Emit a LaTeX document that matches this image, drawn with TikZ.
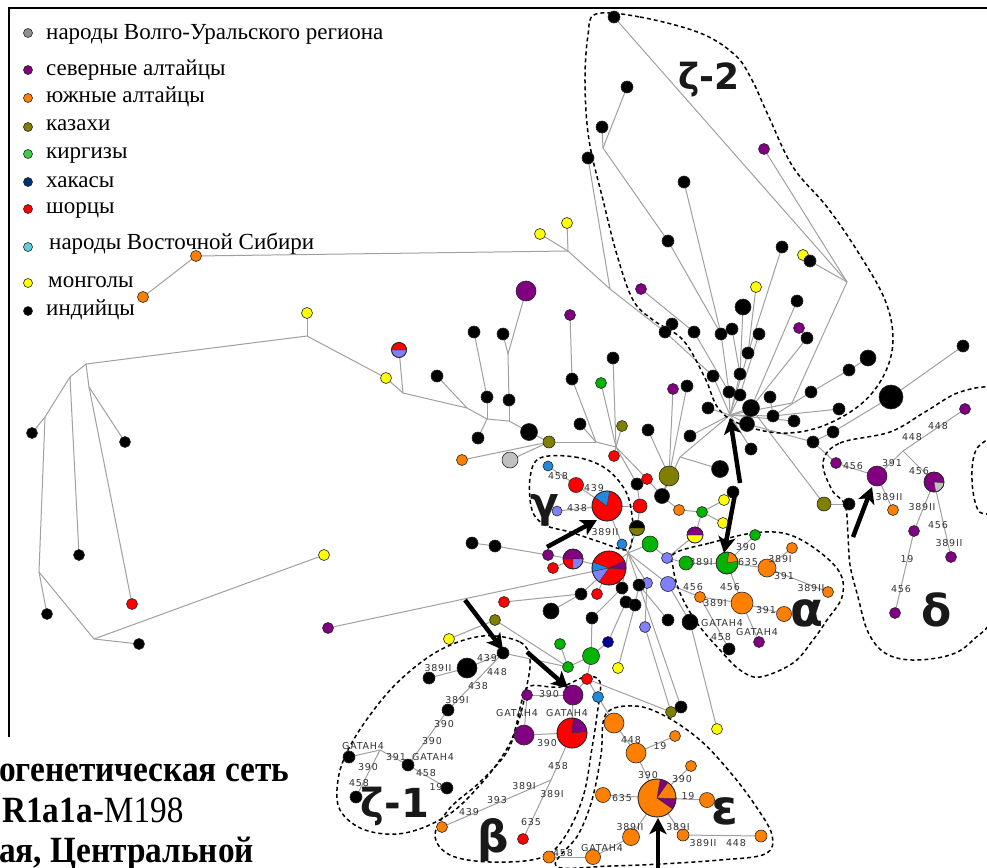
\documentclass[tikz,border=0pt]{standalone}
\usepackage{fontspec}
\setmainfont{Liberation Serif}
\newfontfamily\capfont{Liberation Serif}
\newfontfamily\labfont[LetterSpace=8]{DejaVu Sans}
\newfontfamily\grkfont{DejaVu Sans}
\usetikzlibrary{arrows.meta}
\definecolor{cpur}{HTML}{800080}
\definecolor{cora}{HTML}{FF8000}
\definecolor{coli}{HTML}{808000}
\definecolor{cgrn}{HTML}{00B400}
\definecolor{cnav}{HTML}{000099}
\definecolor{cred}{HTML}{FF0000}
\definecolor{cblu}{HTML}{2288DD}
\definecolor{clav}{HTML}{8080FF}
\definecolor{cyel}{HTML}{FFFF00}
\definecolor{cgry}{HTML}{C0C0C0}
\definecolor{lgry}{HTML}{909090}
\definecolor{lgrn}{HTML}{44CC44}
\definecolor{lnav}{HTML}{003070}
\definecolor{lcya}{HTML}{66CCDD}
\definecolor{cedge}{HTML}{A0A0A0}
\definecolor{clab}{HTML}{333333}
\newcommand\pieseg[5]{\filldraw[fill=#5,draw=black!80,line width=0.4pt] (#1) -- ++(#2:#4pt) arc[start angle=#2,end angle=#3,radius=#4pt] -- cycle;}
\newcommand\pieout[2]{\draw[black!85,line width=0.6pt] (#1) circle[radius=#2pt];}
\begin{document}
\begin{tikzpicture}[x=1pt,y=-1pt,
  nd/.style={circle,draw=black!85,line width=0.6pt,inner sep=0pt,outer sep=0pt},
  edge/.style={draw=cedge,line width=1pt},
  lab/.style={font=\labfont\fontsize{9.5}{9.5}\selectfont,text=clab,inner sep=0pt},
  region/.style={draw=black,line width=1.5pt,dash pattern=on 4pt off 3pt},
  bigarrow/.style={line width=4.5pt,-{Stealth[length=16pt,width=17pt,inset=4pt]}},
  grk/.style={font=\grkfont\bfseries\fontsize{#1}{#1}\selectfont,text=black!90,inner sep=0pt},
  legf/.style={font=\fontsize{23}{23}\selectfont,anchor=base west,inner sep=0pt},
  capf/.style={anchor=base west,inner sep=0pt,font=\capfont\fontsize{37}{40}\selectfont,xscale=0.9,transform shape}]
\useasboundingbox (0,0) rectangle (987,867);
\fill[white] (0,0) rectangle (987,867);
\draw[line width=2.5pt] (9,737) -- (9,8) -- (990,8);

\foreach \n/\x/\y in {o1/196/256, o2/143/297, y1/307/313, j1/307/336, y2/386/378, pRL/399/350, j2/403/393, j3/86/364, j4/70/377, j5/45/417, j6/89/387, j7/39/572, j8/94/639, k1/32/433, k2/125/442, k3/79/555, r1/132/604, k4/47/614, k5/139/644, y3/324/555, pu1/328/628,
j9/467/408, j10/487/419, j11/509/421, k6/437/376, k7/474/332, k8/487/397, k9/478/438, k10/503/334, j12/508/354, pu2/526/291, k11/509/400, k12/529/432, ol1/549/442, or1/462/460, gy1/510/460, jc1/596/442, jc2/616/447, k13/572/379, pu3/570/315, k14/580/424, k15/613/358, g1/601/383, ol2/622/426, rd1/614/456, k16/637/484, rd2/647/479, k17/662/496, ol3/669/476, k18/648/430, pu4/673/389, k19/687/386, jh/680/457, k20/720/469, or2/679/510, g2/702/512, y4/724/500, k21/733/492, y5/723/523, hPY/695/535, rd3/640/506, hOB/637/528,
bl1/548/466, rd4/576/485, pG/607/506, lv1/557/511, bl2/622/544, g3/650/544, jm/628/553, k22/472/543, k23/495/546, pu5/548/555, rd5/553/568, pPRL/573/559, pBig/609/568, lv2/667/558, g4/686/563, pGO/727/563, lv3/647/583, lv4/668/584, k24/622/588, k25/639/585, k26/581/594, rd6/597/594, rd7/504/602, k27/551/611, k28/626/602, k29/635/605, k30/592/618, k31/668/620, k32/690/622, lv5/645/627, ol4/495/620, y6/449/639, k33/503/653, g5/560/644, g6/591/656, nv1/608/642, y7/618/668, g7/568/667, rd8/587/679, pu6/573/695, pu7/527/695, bl3/598/697, ol5/671/712, k34/681/707, y8/717/729, k35/729/649,
kb1/467/668, k36/429/678, k37/448/710, k38/408/765, jz/380/750, k39/349/757, k40/356/797, k41/447/788,
pu8/524/735, pRP/572/733, jb/551/780, rd9/523/839, or3/442/827,
or4/614/723, or5/636/753, or6/675/736, pE/657/798, or7/691/766, or8/707/800, or9/603/795, or10/631/837, or11/593/857, or12/549/857, or13/683/835, or14/761/836,
g8/755/535, or15/767/568, or16/792/548, or17/828/592, or18/742/603, or19/700/597, or20/784/614, pu9/759/642,
kt1/614/17, kt2/627/87, kt3/602/127, kt4/588/158, kt5/684/182, pu10/764/149, kt6/668/241, y9/567/223, y10/540/234, jL/568/251, jz3/603/148, jz5/610/289, kt7/782/247, y11/803/255, kt8/810/261, pu11/641/289, y12/756/287, kt9/743/307, kt10/797/301, kt11/672/324, kt12/665/332, kt13/694/332, kt14/721/334, kt15/732/329, kt16/759/334, pu12/799/328, kt17/807/338, kt18/748/353, kt19/713/376, kt20/740/374, kt21/729/392, kt22/740/395, kt23/770/397, kt24/708/408, kt25/751/408, kt26/773/416, kt27/794/421, kt28/811/392, kt29/839/409, kt30/849/370, kt31/868/358, kt32/891/397, kt33/963/346, kt34/833/432, kt35/813/442, kt36/747/424, kt37/751/449, kt38/690/436, H/730/415, jz1/847/282, jz2/792/403, ol6/824/504, kt40/849/504,
pu13/965/409, jd/903/451, pu14/877/476, pD/934/482, pu15/836/463, or21/893/510, pu16/914/531, pu17/951/557, pu18/895/613,
a1s/547/547, a1e/597/520, a2s/465/600, a2e/503/650, a3s/527/652, a3e/568/688, a4s/740/483, a4e/730/418, a5s/735/494, a5e/724/553, a6s/853/537, a6e/872/487, a7s/658/868, a7e/658/818}
  \coordinate (\n) at (\x,\y);

% edges
\foreach \a/\b in {o2/o1, o1/jL, y9/jL, y10/jL, jL/jz5, kt4/jz5, jz5/kt12, kt11/kt12, kt12/kt19, kt19/H,
j1/y1, j1/j3, j1/y2, y2/j2, pRL/j2, j3/j4, j4/j5, j5/k1, j3/j6, j6/k2, j6/r1, j4/k3, j5/j7, j7/k4, j7/j8, j8/k5, j8/y3, pu1/pBig,
j2/j9, k6/j9, j9/j10, k7/k8, k8/j10, k9/j10, j10/j11, k10/j12, pu2/j12, j12/k11, k11/j11, j11/k12, k12/ol1, or1/ol1, gy1/ol1, ol1/jc1, jc1/jc2, k13/jc1, pu3/k13, k14/jc1, k15/jc2, g1/jc2, ol2/jc2, jc2/rd1, jc2/k16, jc2/rd2, rd2/k17, k16/rd3, k17/ol3, k18/ol3, pu4/ol3, k19/ol3, k17/jh, jh/H, k20/jh, k17/or2, or2/g2, g2/y4, y4/k21, g2/y5, g2/hPY, hPY/lv2,
bl1/rd4, rd4/pG, lv1/pG, pG/rd3, pG/bl2, rd3/hOB, hOB/jm, bl2/jm, g3/jm, pBig/jm, jm/k24, jm/k25, jm/lv3, jm/lv4, g3/lv2, lv2/g4, g4/pGO,
k22/k23, k23/pu5, pu5/pPRL, rd5/pPRL, pPRL/pBig, k26/pBig, k27/k26, rd6/pBig, rd7/k26,
k24/k28, k28/nv1, nv1/g6, k25/k29, k29/y7, k25/k34, k34/ol5, lv3/lv5, lv5/ol5, k30/k24, k30/g6, lv4/k32, k32/y8, k25/k31,
g6/g7, g5/g7, g7/k33, ol4/g7, y6/ol4, g6/rd8, rd8/pu6, rd8/ol5, rd8/bl3, bl3/or4,
lv4/or19, or19/or18, or19/k35,
pGO/g8, pGO/or15, or15/or16, or15/or17, pGO/or18, or18/or20, or18/pu9,
k33/kb1, kb1/k36, k33/k37, k37/k38, k38/jz, jz/k39, jz/k40, k38/k41,
pu7/pu6, pu7/pu8, pu6/pRP, pu8/pRP, pRP/jb, jb/rd9, jb/or3,
or4/or5, or5/or6, or5/pE, pE/or7, pE/or8, pE/or9, pE/or10, or10/or11, or11/or12, pE/or13, or13/or14,
kt1/jz1, pu10/jz1, kt8/jz1, y11/kt8, jz1/jz2, jz2/H, kt2/jz3, kt3/jz3, jz3/kt6, kt6/kt14, kt5/kt14, kt14/kt21, kt21/H, pu11/kt13, kt13/kt21, kt7/kt18, y12/kt18, kt18/H, kt9/kt20, kt15/kt20, kt20/H, kt16/kt22, kt22/H, kt10/kt25, pu12/kt17, kt17/kt25, kt25/H, kt31/kt30, kt30/kt28, kt28/kt26, kt29/kt26, kt23/kt26, kt26/H, kt33/kt32, kt32/kt34, kt34/kt35, kt35/kt36, kt36/H, pu15/kt35, kt27/H, kt37/H, kt24/H, kt38/H, kt25/ol6, ol6/kt40,
pu13/jd, jd/pu14, jd/pD, pu15/pu14, pu14/or21, pD/pu16, pu16/pu18, pD/pu17}
  \draw[edge] (\a) -- (\b);

% dashed regions
\draw[region] plot[smooth cycle,tension=0.6] coordinates {(596,14) (640,17) (700,33) (735,55) (752,80) (768,115) (793,167) (827,207) (858,252) (885,300) (893,340) (884,375) (860,405) (820,427) (780,433) (740,424) (718,408) (705,378) (683,340) (653,320) (633,300) (617,255) (603,200) (589,140) (585,83) (588,35)};
\draw[region] plot[smooth cycle,tension=0.6] coordinates {(540,458) (575,457) (605,468) (625,490) (632,515) (632,540) (626,550) (600,542) (570,532) (545,525) (532,510) (530,478)};
\draw[region] plot[smooth cycle,tension=0.6] coordinates {(675,553) (710,543) (753,533) (787,534) (817,550) (840,573) (842,597) (827,620) (813,640) (793,663) (760,677) (740,670) (720,650) (697,623) (680,593) (673,567)};
\draw[region] plot[smooth cycle,tension=0.6] coordinates {(823,462) (840,443) (890,432) (925,412) (960,392) (995,390) (995,430) (976,450) (972,480) (978,510) (995,525) (995,610) (973,640) (950,655) (912,660) (885,653) (868,632) (858,597) (850,565) (848,535) (845,505) (832,490)};
\draw[region] plot[smooth cycle,tension=0.6] coordinates {(483,636) (520,642) (530,660) (526,690) (518,723) (505,752) (480,785) (448,815) (405,833) (365,830) (340,810) (338,780) (348,750) (370,715) (400,680) (440,650)};
\draw[region] plot[smooth cycle,tension=0.6] coordinates {(530,686) (560,687) (585,677) (600,682) (597,715) (592,748) (583,797) (564,838) (540,858) (490,862) (450,855) (435,835) (450,808) (480,782) (507,752) (517,722) (522,700)};
\draw[region] plot[smooth cycle,tension=0.6] coordinates {(606,714) (635,706) (665,716) (700,740) (730,772) (755,805) (772,835) (765,854) (720,860) (660,864) (610,866) (556,866) (578,835) (592,800) (601,755)};

% nodes
\foreach \n/\c/\d in {o1/cora/11, o2/cora/11, y1/cyel/11, y2/cyel/11, pRL/clav/15, k1/black/11, k2/black/11, k3/black/11, r1/cred/11, k4/black/11, k5/black/11, y3/cyel/11, pu1/cpur/11,
k6/black/12, k7/black/12, k8/black/12, k9/black/12, k10/black/12, pu2/cpur/20, k11/black/12, k12/black/17, ol1/coli/12, or1/cora/11, gy1/cgry/16, k13/black/12, pu3/cpur/11, k14/black/12, k15/black/12, g1/cgrn/11, ol2/coli/11, rd1/cred/11, k16/black/12, rd2/cred/11, k17/black/15, ol3/coli/20, k18/black/12, pu4/cpur/11, k19/black/12, k20/black/17, or2/cora/11, g2/cgrn/11, y4/cyel/11, k21/black/12, y5/cyel/11, hPY/cyel/16, rd3/cred/14, hOB/coli/15,
bl1/cblu/10, rd4/cred/15, pG/cred/30, lv1/clav/10, bl2/cblu/10, g3/cgrn/16, k22/black/12, k23/black/12, pu5/cpur/11, rd5/cred/11, pPRL/cred/20, pBig/cred/34, lv2/clav/11, g4/cgrn/14, pGO/cgrn/22, lv3/clav/11, lv4/clav/15, k24/black/12, k25/black/12, k26/black/12, rd6/cred/11, rd7/cred/11, k27/black/16, k28/black/12, k29/black/12, k30/black/12, k31/black/12, k32/black/16, lv5/clav/11, ol4/coli/11, y6/cyel/11, k33/black/12, g5/cgrn/11, g6/cgrn/17, nv1/cnav/11, y7/cyel/11, g7/cgrn/11, rd8/cred/11, pu6/cpur/20, pu7/cpur/11, bl3/cblu/11, ol5/coli/11, k34/black/12, y8/cyel/11, k35/black/12,
kb1/black/20, k36/black/12, k37/black/12, k38/black/12, k39/black/12, k40/black/12, k41/black/12,
pu8/cpur/20, pRP/cred/30, rd9/cred/11, or3/cora/11,
or4/cora/20, or5/cora/20, or6/cora/11, pE/cora/38, or7/cora/11, or8/cora/15, or9/cora/15, or10/cora/17, or11/cora/15, or12/cora/12, or13/cora/12, or14/cora/12,
g8/cgrn/11, or15/cora/18, or16/cora/11, or17/cora/11, or18/cora/22, or19/cora/11, or20/cora/15, pu9/cpur/11,
kt1/black/12, kt2/black/12, kt3/black/12, kt4/black/12, kt5/black/12, pu10/cpur/11, kt6/black/12, y9/cyel/11, y10/cyel/11, kt7/black/12, y11/cyel/11, kt8/black/12, pu11/cpur/11, y12/cyel/11, kt9/black/16, kt10/black/12, kt11/black/12, kt12/black/12, kt13/black/12, kt14/black/12, kt15/black/12, kt16/black/12, pu12/cpur/11, kt17/black/12, kt18/black/12, kt19/black/12, kt20/black/12, kt21/black/12, kt22/black/12, kt23/black/12, kt24/black/12, kt25/black/17, kt26/black/12, kt27/black/12, kt28/black/12, kt29/black/12, kt30/black/12, kt31/black/16, kt32/black/24, kt33/black/12, kt34/black/12, kt35/black/12, kt36/black/15, kt37/black/12, kt38/black/12, ol6/coli/14, kt40/black/12,
pu13/cpur/11, pu14/cpur/20, pD/cpur/20, pu15/cpur/11, or21/cora/11, pu16/cpur/11, pu17/cpur/11, pu18/cpur/11}
  \node[nd,fill=\c,minimum size=\d pt] (n-\n) at (\n) {};

% pie wedges
\pieseg{pG}{80}{145}{15}{cblu}\pieout{pG}{15}
\pieseg{pBig}{160}{192}{17}{cblu}\pieseg{pBig}{192}{235}{17}{clav}\pieseg{pBig}{-5}{25}{17}{cpur}\pieout{pBig}{17}
\pieseg{pPRL}{0}{180}{10}{cpur}\pieseg{pPRL}{270}{360}{10}{clav}\pieout{pPRL}{10}
\pieseg{pRL}{0}{180}{7.5}{cred}\pieout{pRL}{7.5}
\pieseg{hOB}{0}{180}{7.5}{black}\pieout{hOB}{7.5}
\pieseg{hPY}{0}{180}{8}{cpur}\pieout{hPY}{8}
\pieseg{pGO}{10}{80}{11}{cora}\pieout{pGO}{11}
\pieseg{pRP}{5}{85}{15}{cpur}\pieout{pRP}{15}
\pieseg{pD}{280}{355}{10}{cgry}\pieout{pD}{10}
\pieseg{pE}{55}{80}{19}{cpur}\pieseg{pE}{325}{358}{19}{cpur}\pieout{pE}{19}

% mutation labels
\foreach \x/\y/\t in {558/476/458, 594/488/439, 577/508/438, 605/532/389II,
746/547/390, 701/562/389I, 748/562/635, 780/559/389I, 784/576/391, 811/588/389II, 693/587/456, 730/587/456, 715/603/389I, 766/610/391, 722/623/GATAH4, 757/632/GATAH4, 721/637/458,
912/437/448, 938/426/448, 853/466/456, 892/463/391, 889/497/389II, 919/471/456, 922/507/389II, 938/525/456, 949/543/389II, 907/559/19, 901/589/456,
487/658/439, 497/672/448, 438/668/389II, 478/686/438, 457/700/389I, 444/724/390, 432/741/390, 396/757/391, 433/757/GATAH4, 363/746/GATAH4, 368/767/390, 426/773/458, 359/783/458, 436/787/19,
549/694/390, 517/713/GATAH4, 567/713/GATAH4, 547/743/390, 558/766/458, 524/786/389I, 552/794/389I, 497/800/393, 469/812/439, 531/822/635,
563/853/458, 602/848/GATAH4, 631/740/448, 660/746/19, 648/775/390, 682/779/390, 688/796/19, 622/798/635, 630/827/389II, 678/827/389I, 703/843/389II, 736/843/448}
  \node[lab] (lab-\x-\y) at (\x,\y) {\t};

% arrows
\draw[bigarrow] (a1s) -- (a1e);
\draw[bigarrow] (a2s) -- (a2e);
\draw[bigarrow] (a3s) -- (a3e);
\draw[bigarrow] (a4s) -- (a4e);
\draw[bigarrow] (a5s) -- (a5e);
\draw[bigarrow] (a6s) -- (a6e);
\draw[bigarrow] (a7s) -- (a7e);

% group letters
\node[grk=36] (gz2) at (709,80) {ζ-2};
\node[grk=42] (gg) at (545,510) {γ};
\node[grk=48] (ga) at (807,613) {α};
\node[grk=44] (gd) at (937,610) {δ};
\node[grk=40] (gz1) at (395,806) {ζ-1};
\node[grk=44] (gb) at (493,840) {β};
\node[grk=48] (ge) at (725,811) {ε};

% legend
\foreach \yy/\c in {33/lgry, 70/cpur, 98/cora, 127/coli, 154/lgrn, 182/lnav, 209/cred, 247/lcya, 283/cyel, 311/black}
  \node[nd,fill=\c,minimum size=9pt] (leg-\yy) at (28,\yy) {};
\node[legf] (lt1) at (46,40) {народы Волго-Уральского региона};
\node[legf] (lt2) at (46,75) {северные алтайцы};
\node[legf] (lt3) at (46,102) {южные алтайцы};
\node[legf] (lt4) at (46,130) {казахи};
\node[legf] (lt5) at (46,158) {киргизы};
\node[legf] (lt6) at (46,187) {хакасы};
\node[legf] (lt7) at (46,213) {шорцы};
\node[legf] (lt8) at (49,249) {народы Восточной Сибири};
\node[legf] (lt9) at (48,287) {монголы};
\node[legf] (lt10) at (46,315) {индийцы};

% caption
\node[capf] (cap1) at (-1,781) {\bfseries огенетическая сеть};
\node[capf] (cap2) at (2,822) {\bfseries R1a1a\mdseries -M198};
\node[capf] (cap3) at (-1,862) {\bfseries ая, Центральной};
\end{tikzpicture}
\end{document}
